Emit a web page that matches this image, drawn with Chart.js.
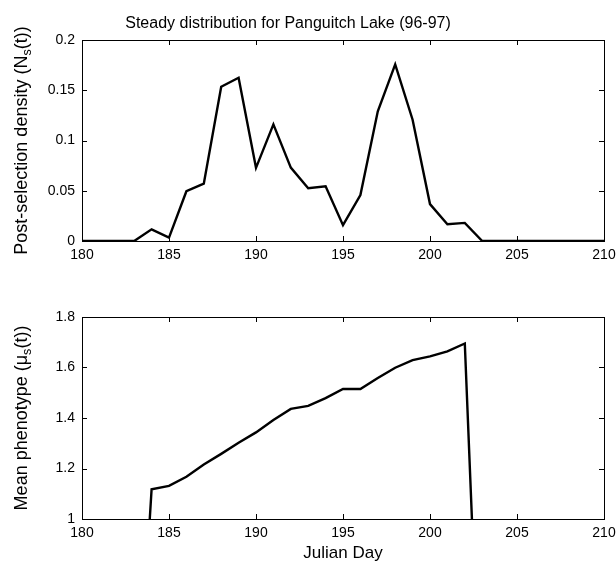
<!DOCTYPE html>
<html>
<head>
<meta charset="utf-8">
<script src="https://cdn.jsdelivr.net/npm/chart.js@4/dist/chart.umd.min.js"></script>
<style>
  html, body { margin:0; padding:0; background:#fff; }
  #wrap { position:relative; width:616px; height:563px; }
  .panel { position:absolute; left:0; width:616px; }
  #p1 { top:0; height:280px; }
  #p2 { top:280px; height:283px; }
</style>
</head>
<body>
<div id="wrap">
  <div class="panel" id="p1"><canvas id="chartDensity"></canvas></div>
  <div class="panel" id="p2"><canvas id="chartPheno"></canvas></div>
</div>
<script>
// --- data ---
const days = [180,181,182,183,184,185,186,187,188,189,190,191,192,193,194,195,
              196,197,198,199,200,201,202,203,204,205,206,207,208,209,210];
const density = [0,0,0,0,0.0116,0.0033,0.0495,0.057,0.1535,0.1625,0.0728,0.116,0.073,0.0525,0.0545,0.0157,
                 0.0457,0.129,0.1757,0.1207,0.0367,0.0167,0.018,0,0,0,0,0,0,0,0];
// zero outside the selected window (falls below the axis and is clipped)
const phenotype = [0,0,0,0,1.118,1.131,1.167,1.216,1.258,1.302,1.343,1.392,1.436,1.448,1.479,1.515,
                   1.515,1.558,1.599,1.629,1.644,1.664,1.695,0,0,0,0,0,0,0,0];
const xTicks = [180,185,190,195,200,205,210];
const yTicksTop = [0,0.05,0.1,0.15,0.2];
const yTicksBot = [1,1.2,1.4,1.6,1.8];

const FONT = "'Liberation Sans', Arial, sans-serif";
Chart.defaults.font.family = FONT;
Chart.defaults.color = '#000';

function pts(ys) {
  return days.map(function(d, i){ return { x:d, y:ys[i] }; });
}

// draw text pieces centred on the origin, some as subscripts
function drawRich(ctx, parts, size) {
  let w = 0;
  parts.forEach(function(p){
    ctx.font = (p.sub ? size*0.7 : size) + 'px ' + FONT;
    w += ctx.measureText(p.t).width;
  });
  let x = -w/2;
  parts.forEach(function(p){
    ctx.font = (p.sub ? size*0.7 : size) + 'px ' + FONT;
    ctx.fillText(p.t, x, p.sub ? size*0.3 : 0);
    x += ctx.measureText(p.t).width;
  });
}

// MATLAB-ish box with inward ticks on all four sides, plus labels
const matlabBox = {
  id: 'matlabBox',
  afterDraw(chart, args, opts) {
    const ctx = chart.ctx, a = chart.chartArea;
    const xs = chart.scales.x, ys = chart.scales.y;
    const tl = 5;
    ctx.save();
    ctx.strokeStyle = '#000';
    ctx.lineWidth = 1;
    ctx.strokeRect(Math.round(a.left)+0.5, Math.round(a.top)+0.5,
                   Math.round(a.right-a.left), Math.round(a.bottom-a.top));
    ctx.beginPath();
    xTicks.forEach(function(v){
      const px = Math.round(xs.getPixelForValue(v)) + 0.5;
      ctx.moveTo(px, a.bottom); ctx.lineTo(px, a.bottom - tl);
      ctx.moveTo(px, a.top); ctx.lineTo(px, a.top + tl);
    });
    opts.yTicks.forEach(function(v){
      const py = Math.round(ys.getPixelForValue(v)) + 0.5;
      ctx.moveTo(a.left, py); ctx.lineTo(a.left + tl, py);
      ctx.moveTo(a.right, py); ctx.lineTo(a.right - tl, py);
    });
    ctx.stroke();

    ctx.fillStyle = '#000';
    ctx.textBaseline = 'middle';
    ctx.textAlign = 'left';
    if (opts.title) {
      ctx.save();
      ctx.translate(288, 24);
      drawRich(ctx, [{t:opts.title}], 16);
      ctx.restore();
    }
    if (opts.xLabel) {
      ctx.save();
      ctx.translate((a.left + a.right)/2, a.bottom + 34);
      drawRich(ctx, [{t:opts.xLabel}], 17);
      ctx.restore();
    }
    ctx.save();
    ctx.translate(22, (a.top + a.bottom)/2);
    ctx.rotate(-Math.PI/2);
    drawRich(ctx, opts.yLabel, 18);
    ctx.restore();
    ctx.restore();
  }
};

function makeChart(id, ys, yMin, yMax, yTicks, padTop, xHeight, boxOpts) {
  return new Chart(document.getElementById(id).getContext('2d'), {
    type: 'line',
    data: {
      datasets: [{
        data: pts(ys),
        borderColor: '#000', borderWidth: 2.4,
        pointRadius: 0, tension: 0, fill: false
      }]
    },
    options: {
      responsive: true, maintainAspectRatio: false, animation: false,
      layout: { padding: { top: padTop, right: 12, left: 0, bottom: 0 } },
      plugins: { legend: { display:false }, tooltip: { enabled:false }, matlabBox: boxOpts },
      scales: {
        x: {
          type: 'linear', min: 180, max: 210,
          afterBuildTicks: function(s){ s.ticks = xTicks.map(function(v){ return {value:v}; }); },
          afterFit: function(s){ s.height = xHeight; s.paddingLeft = 0; s.paddingRight = 0; },
          grid: { display:false, drawTicks:false }, border: { display:false },
          ticks: { padding: 6, font: { size: 14 }, color:'#000', maxRotation:0 }
        },
        y: {
          min: yMin, max: yMax,
          afterBuildTicks: function(s){ s.ticks = yTicks.map(function(v){ return {value:v}; }); },
          afterFit: function(s){ s.width = 82; s.paddingTop = 0; s.paddingBottom = 0; },
          grid: { display:false, drawTicks:false }, border: { display:false },
          ticks: { padding: 7, font: { size: 14 }, color:'#000',
                   callback: function(v){ return String(+v.toFixed(2)); } }
        }
      }
    },
    plugins: [matlabBox]
  });
}

makeChart('chartDensity', density, 0, 0.2, yTicksTop, 40, 39, {
  title: 'Steady distribution for Panguitch Lake (96-97)',
  yTicks: yTicksTop,
  yLabel: [{t:'Post-selection density (N'}, {t:'s', sub:true}, {t:'(t))'}]
});
makeChart('chartPheno', phenotype, 1, 1.8, yTicksBot, 37, 44, {
  xLabel: 'Julian Day',
  yTicks: yTicksBot,
  yLabel: [{t:'Mean phenotype (\u03bc'}, {t:'s', sub:true}, {t:'(t))'}]
});
</script>
</body>
</html>
